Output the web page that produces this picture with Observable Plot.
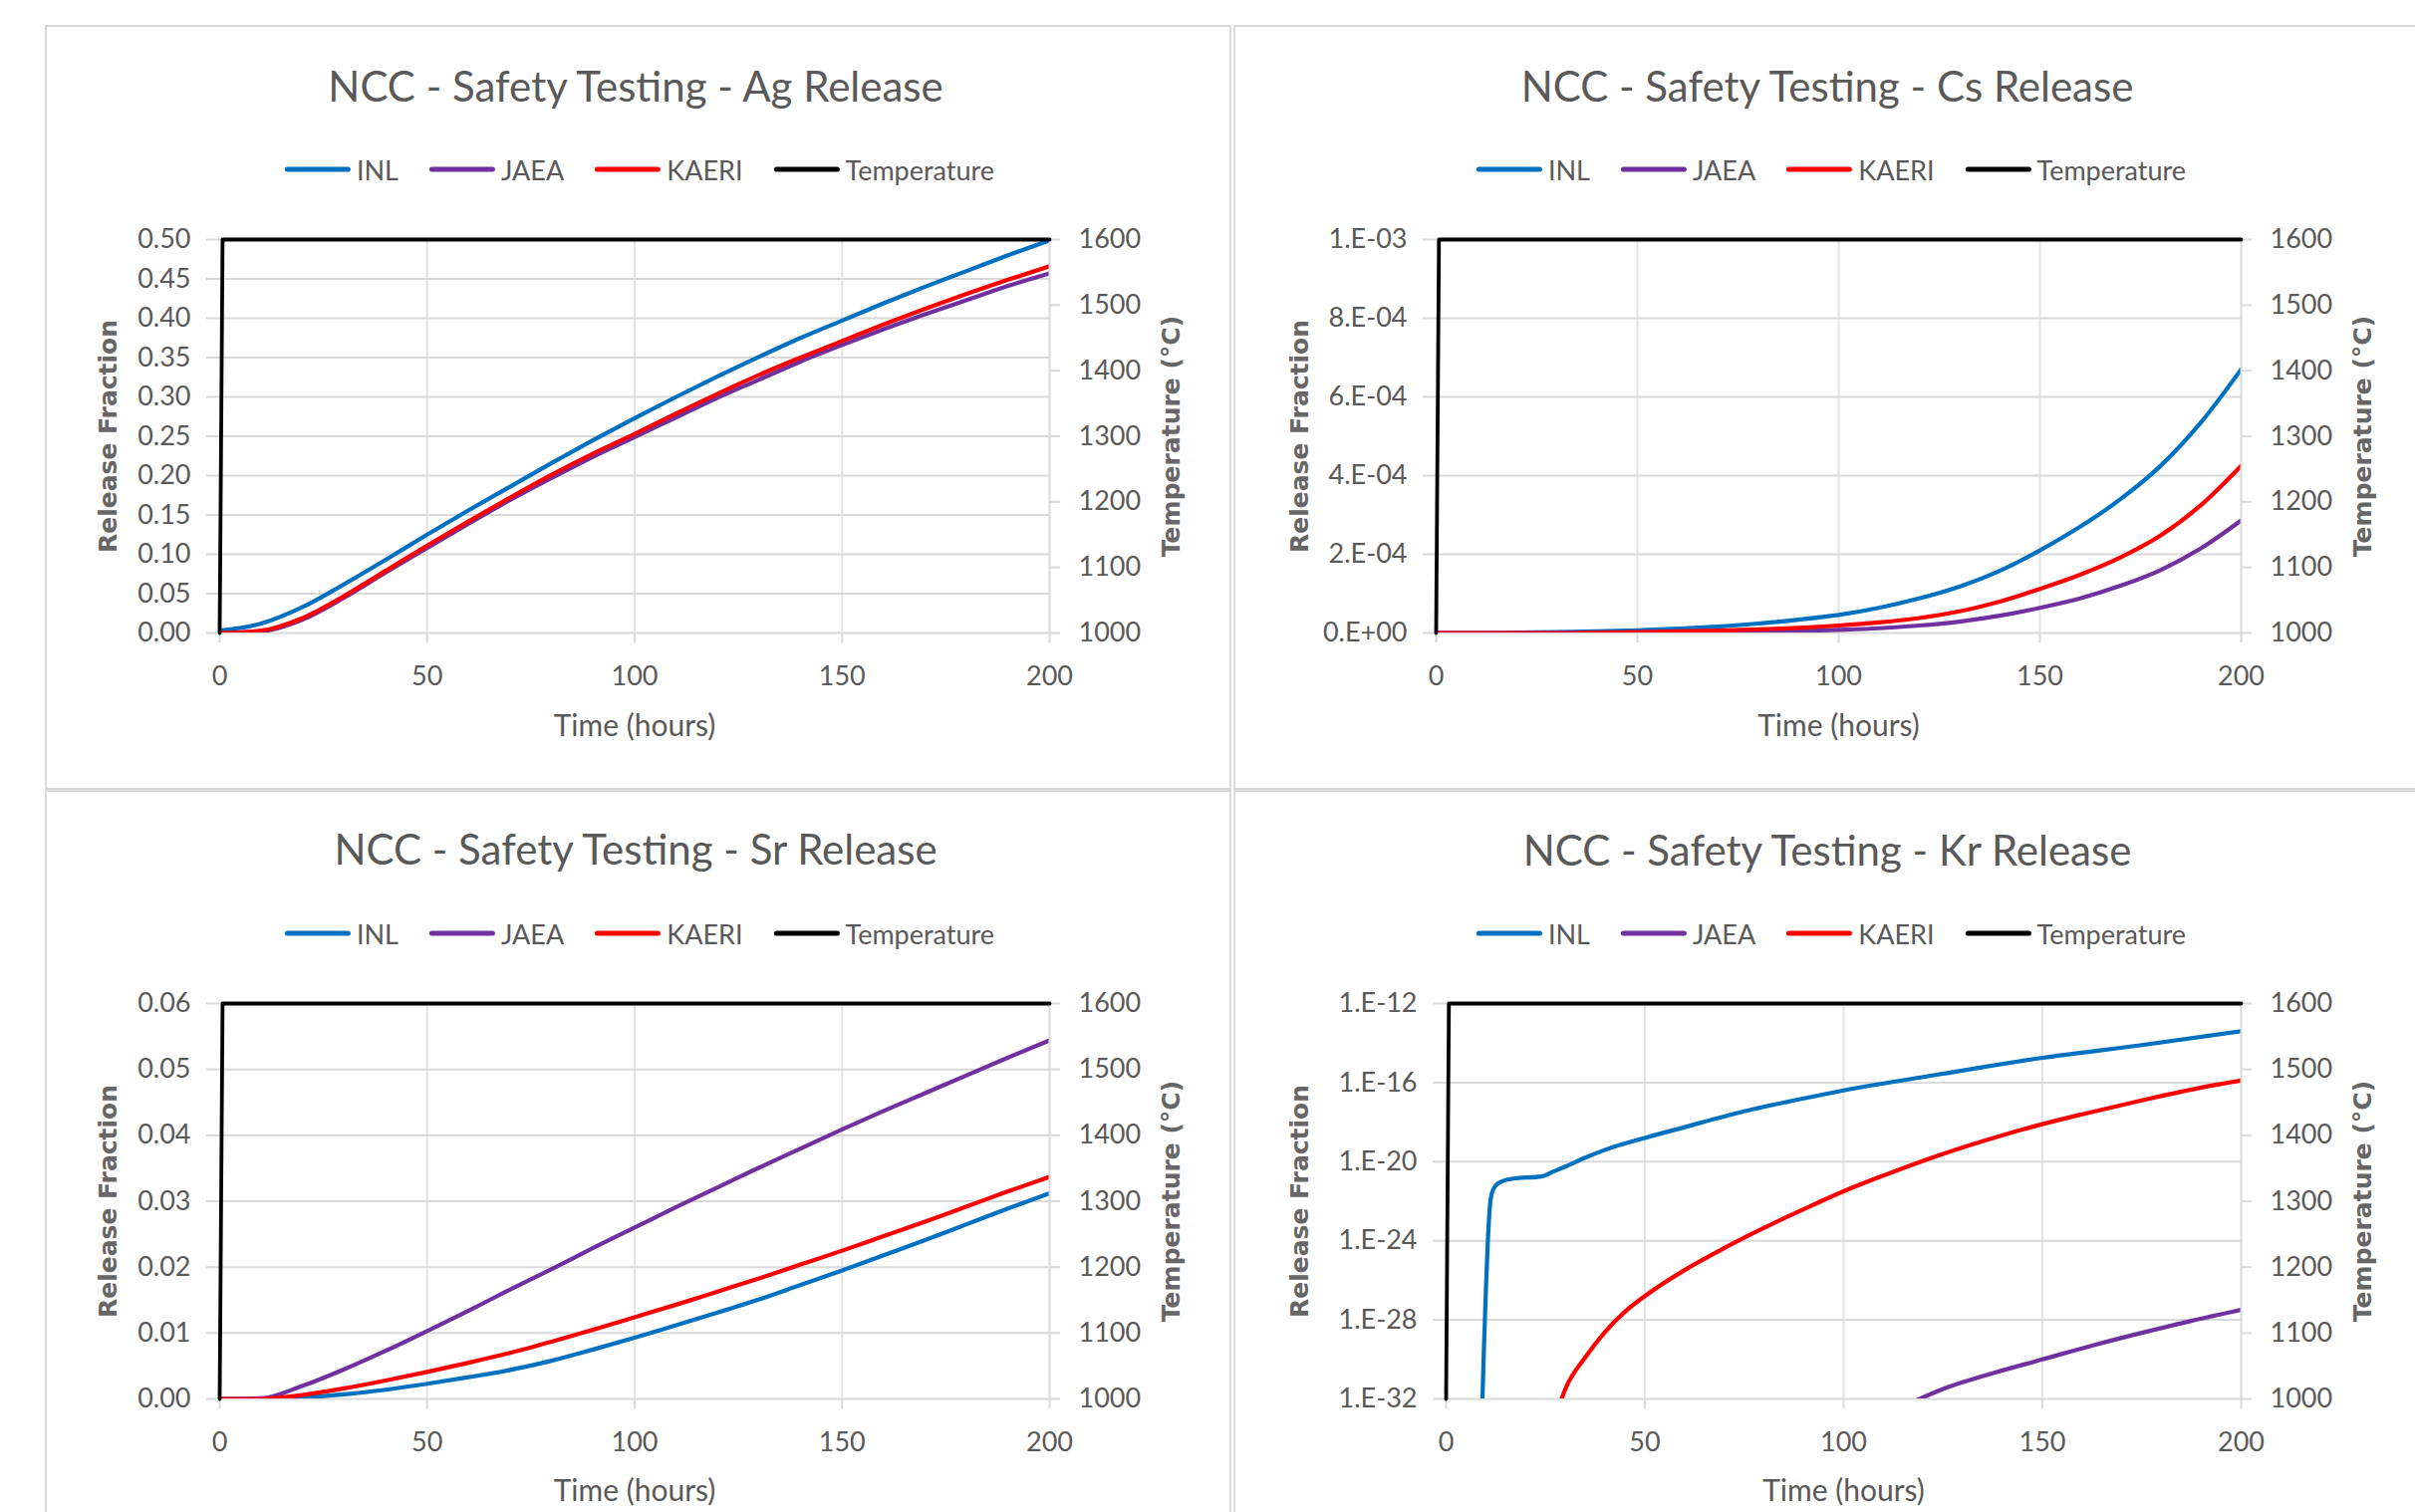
<!DOCTYPE html>
<html><head><meta charset="utf-8">
<script src="https://cdn.jsdelivr.net/npm/d3@7"></script>
<script src="https://cdn.jsdelivr.net/npm/@observablehq/plot@0.6"></script>
<style>
body{margin:0;background:#fff;width:2424px;height:1518px;overflow:hidden;position:relative;font-family:Lato,sans-serif;}
.panel{position:absolute;border:2px solid #d9d9d9;box-sizing:border-box;background:#fff;}
.title{position:absolute;font-size:42px;color:#595959;white-space:nowrap;transform:translate(-50%,-50%);line-height:1}
.legend{position:absolute;display:flex;align-items:center;transform:translate(-50%,-50%);font-size:27px;color:#595959;white-space:nowrap;line-height:1}
.legend .item{display:flex;align-items:center;margin-right:31px}
.legend .item:last-child{margin-right:0}
.legend .sw{width:66px;height:5px;margin-right:6px;border-radius:2.5px}
.layer{position:absolute}
</style></head>
<body>
<script>
// ---------- data ----------
const hours = [0,10,20,30,40,50,60,70,80,90,100,110,120,130,140,150,160,170,180,190,200];

const agINL   = [0.003,0.012,0.033,0.062,0.093,0.125,0.156,0.186,0.216,0.245,0.273,0.300,0.326,0.351,0.375,0.397,0.419,0.440,0.460,0.480,0.499];
const agJAEA  = [0.000,0.002,0.017,0.045,0.077,0.108,0.139,0.169,0.197,0.224,0.249,0.274,0.299,0.322,0.345,0.366,0.386,0.405,0.423,0.441,0.457];
const agKAERI = [0.000,0.003,0.019,0.047,0.079,0.111,0.142,0.172,0.201,0.228,0.253,0.279,0.304,0.328,0.350,0.371,0.392,0.412,0.431,0.449,0.466];

const csINL   = [0,0,1e-6,2e-6,4e-6,7e-6,1.1e-5,1.6e-5,2.4e-5,3.4e-5,4.6e-5,6.4e-5,8.8e-5,1.18e-4,1.58e-4,2.10e-4,2.70e-4,3.40e-4,4.25e-4,5.35e-4,6.70e-4];
const csJAEA  = [0,0,0,0,0,0,1e-6,2e-6,3e-6,5e-6,8e-6,1.2e-5,1.9e-5,2.9e-5,4.4e-5,6.4e-5,8.8e-5,1.20e-4,1.60e-4,2.15e-4,2.86e-4];
const csKAERI = [0,0,0,0,1e-6,2e-6,4e-6,6e-6,9e-6,1.3e-5,1.9e-5,2.7e-5,3.8e-5,5.5e-5,8.0e-5,1.12e-4,1.48e-4,1.92e-4,2.48e-4,3.25e-4,4.25e-4];

const srINL   = [0,0,0.0002,0.0007,0.0014,0.0023,0.0033,0.0044,0.0058,0.0075,0.0093,0.0112,0.0131,0.0151,0.0173,0.0195,0.0218,0.0241,0.0265,0.0289,0.0312];
const srJAEA  = [0,0.0001,0.0020,0.0045,0.0073,0.0103,0.0134,0.0166,0.0197,0.0229,0.0260,0.0291,0.0321,0.0351,0.0380,0.0409,0.0437,0.0464,0.0491,0.0518,0.0544];
const srKAERI = [0,0,0.0006,0.0016,0.0028,0.0041,0.0055,0.0070,0.0087,0.0105,0.0124,0.0143,0.0163,0.0183,0.0204,0.0225,0.0247,0.0269,0.0292,0.0315,0.0337];

const krINLHours   = [9,9.5,10,10.5,11,11.5,12.5,14,17,24,27,30,35,40,50,60,75,90,100,125,150,175,200];
const krINL        = [1e-33,3e-30,3e-27,1e-24,5e-23,2.5e-22,6.3e-22,1e-21,1.4e-21,1.8e-21,3.2e-21,5.6e-21,1.6e-20,4.0e-20,1.6e-19,5.6e-19,3.5e-18,1.6e-17,4.0e-17,2.8e-16,1.8e-15,7.9e-15,4.0e-14];
const krJAEAHours  = [118,125,137.5,150,162.5,175,187.5,200];
const krJAEA       = [8e-33,3.2e-32,2e-31,1e-30,5e-30,2.2e-29,8.9e-29,3.2e-28];
const krKAERIHours = [28.5,30,35,40,45,50,60,70,80,90,100,110,125,140,150,160,175,190,200];
const krKAERI      = [5e-33,3.2e-32,1.26e-30,2.5e-29,2.6e-28,1.6e-27,3.3e-26,4.3e-25,4.5e-24,4e-23,3.2e-22,2e-21,2.5e-20,2.2e-19,7.9e-19,2.5e-18,1.26e-17,5.6e-17,1.26e-16];

const tempHours  = [0,0.7,200];
const tempValues = [1000,1600,1600];

const timeTicks = [0,50,100,150,200];
const tempTicks = [1000,1100,1200,1300,1400,1500,1600];
const agTicks = [0,0.05,0.10,0.15,0.20,0.25,0.30,0.35,0.40,0.45,0.50];
const csTicks = [0,2e-4,4e-4,6e-4,8e-4,1e-3];
const srTicks = [0,0.01,0.02,0.03,0.04,0.05,0.06];
const krTicks = [1e-32,1e-28,1e-24,1e-20,1e-16,1e-12];

const seriesNames  = ["INL","JAEA","KAERI","Temperature"];
const seriesColors = ["#0070C0","#7030A0","#FF0000","#000000"];

// ---------- helpers ----------
const f2 = d3.format(".2f");
const fInt = d3.format("d");
function excelSci(d){
  const [m,e] = d.toExponential(0).split("e");
  const n = +e;
  return m + ".E" + (n<0?"-":"+") + String(Math.abs(n)).padStart(2,"0");
}

function addDiv(cls, style, html){
  const el = document.createElement("div");
  el.className = cls;
  Object.assign(el.style, style);
  if (html !== undefined) el.innerHTML = html;
  document.body.appendChild(el);
  return el;
}

function drawPanel(cfg){
  const P = cfg.panel;
  addDiv("panel", {left:P.left+"px", top:P.top+"px", width:P.width+"px", height:P.height+"px"});
  addDiv("title", {left:cfg.cx+"px", top:cfg.titleY+"px"}, cfg.title);
  const lg = addDiv("legend", {left:cfg.legendX+"px", top:cfg.legendY+"px"});
  seriesNames.forEach((n,i)=>{
    const it = document.createElement("div"); it.className="item";
    it.innerHTML = `<span class="sw" style="background:${seriesColors[i]}"></span><span>${n}</span>`;
    lg.appendChild(it);
  });

  const svgLeft = P.left, svgTop = cfg.legendY + 32;
  const width = Math.min(P.left + P.width, 2424) - svgLeft;
  const height = Math.min(P.top + P.height, 1518) - svgTop;
  const F = cfg.frame;
  const dims = {
    width, height,
    marginLeft: F.left - svgLeft,
    marginRight: svgLeft + width - F.right,
    marginTop: F.top - svgTop,
    marginBottom: svgTop + height - F.bottom
  };
  const style = {background:"transparent", fontFamily:"Lato, sans-serif", fontSize:"27px", color:"#595959", overflow:"visible"};
  const axisTitle = {fontFamily:"DejaVu Sans", fontWeight:"bold", fontSize:25, fill:"#666666", rotate:-90, textAnchor:"middle"};

  const lineMarks = cfg.series.map((s,i)=>Plot.line(d3.range(s.x.length), {
    x: j=>s.x[j], y: j=>s.y[j], stroke: seriesColors[i], strokeWidth: 4.2, clip: true, curve: "monotone-x"
  }));

  const primary = Plot.plot({
    ...dims, style,
    x: {domain:[0,200]},
    y: {type: cfg.yType, domain: cfg.yDomain},
    marks: [
      Plot.ruleX(timeTicks.slice(1,-1), {stroke:"#e4e4e4", strokeWidth:2}),
      Plot.ruleY(cfg.yTicks, {stroke:"#d9d9d9", strokeWidth:2}),
      Plot.axisY(cfg.yTicks, {tickSize:13, tickPadding:16, stroke:"#d9d9d9", strokeWidth:2, strokeOpacity:1, fill:"#595959", fontSize:27, tickFormat:cfg.yFormat, label:null}),
      Plot.axisX(timeTicks, {tickSize:10, tickPadding:23, stroke:"#d9d9d9", strokeWidth:2, strokeOpacity:1, fill:"#595959", fontSize:27, label:null}),
      Plot.text(["Release Fraction"], {text:d=>d, frameAnchor:"left", dx: cfg.leftLabelX - F.left, ...axisTitle}),
      Plot.text(["Time (hours)"], {text:d=>d, frameAnchor:"bottom", textAnchor:"middle", dy: cfg.xLabelY - F.bottom, fontSize:30, fill:"#595959"}),
      ...lineMarks
    ]
  });
  const secondary = Plot.plot({
    ...dims, style,
    x: {domain:[0,200], axis:null},
    y: {domain:[1000,1600], axis:null},
    marks: [
      Plot.ruleX([200], {stroke:"#d9d9d9", strokeWidth:2}),
      Plot.axisY(tempTicks, {anchor:"right", tickSize:10, tickPadding:19, stroke:"#d9d9d9", strokeWidth:2, strokeOpacity:1, fill:"#595959", fontSize:27, tickFormat:fInt, label:null}),
      Plot.text(["Temperature (°C)"], {text:d=>d, frameAnchor:"right", dx: cfg.rightLabelX - F.right, ...axisTitle}),
      Plot.line(d3.range(tempHours.length), {x:j=>tempHours[j], y:j=>tempValues[j], stroke:seriesColors[3], strokeWidth:3.8})
    ]
  });
  for (const svg of [primary, secondary]){
    const wrap = addDiv("layer", {left:svgLeft+"px", top:svgTop+"px"});
    wrap.appendChild(svg);
  }
}

const panels = [
  {
    title:"NCC - Safety Testing - Ag Release",
    panel:{left:45, top:25, width:1191, height:768},
    cx:638, titleY:86, legendX:642, legendY:170,
    frame:{left:220, right:1053, top:240, bottom:635},
    leftLabelX:108, rightLabelX:1175, xLabelY:738,
    yType:"linear", yDomain:[0,0.5], yTicks:agTicks, yFormat:f2,
    series:[{x:hours,y:agINL},{x:hours,y:agJAEA},{x:hours,y:agKAERI}]
  },
  {
    title:"NCC - Safety Testing - Cs Release",
    panel:{left:1238, top:25, width:1194, height:768},
    cx:1834, titleY:86, legendX:1838, legendY:170,
    frame:{left:1441, right:2249, top:240, bottom:635},
    leftLabelX:1304, rightLabelX:2371, xLabelY:738,
    yType:"linear", yDomain:[0,1e-3], yTicks:csTicks, yFormat:excelSci,
    series:[{x:hours,y:csINL},{x:hours,y:csJAEA},{x:hours,y:csKAERI}]
  },
  {
    title:"NCC - Safety Testing - Sr Release",
    panel:{left:45, top:793, width:1191, height:760},
    cx:638, titleY:852, legendX:642, legendY:937,
    frame:{left:220, right:1053, top:1007, bottom:1404},
    leftLabelX:108, rightLabelX:1175, xLabelY:1506,
    yType:"linear", yDomain:[0,0.06], yTicks:srTicks, yFormat:f2,
    series:[{x:hours,y:srINL},{x:hours,y:srJAEA},{x:hours,y:srKAERI}]
  },
  {
    title:"NCC - Safety Testing - Kr Release",
    panel:{left:1238, top:793, width:1194, height:760},
    cx:1834, titleY:853, legendX:1838, legendY:937,
    frame:{left:1451, right:2249, top:1007, bottom:1404},
    leftLabelX:1304, rightLabelX:2371, xLabelY:1506,
    yType:"log", yDomain:[1e-32,1e-12], yTicks:krTicks, yFormat:excelSci,
    series:[{x:krINLHours,y:krINL},{x:krJAEAHours,y:krJAEA},{x:krKAERIHours,y:krKAERI}]
  }
];
panels.forEach(drawPanel);
</script>
</body></html>
